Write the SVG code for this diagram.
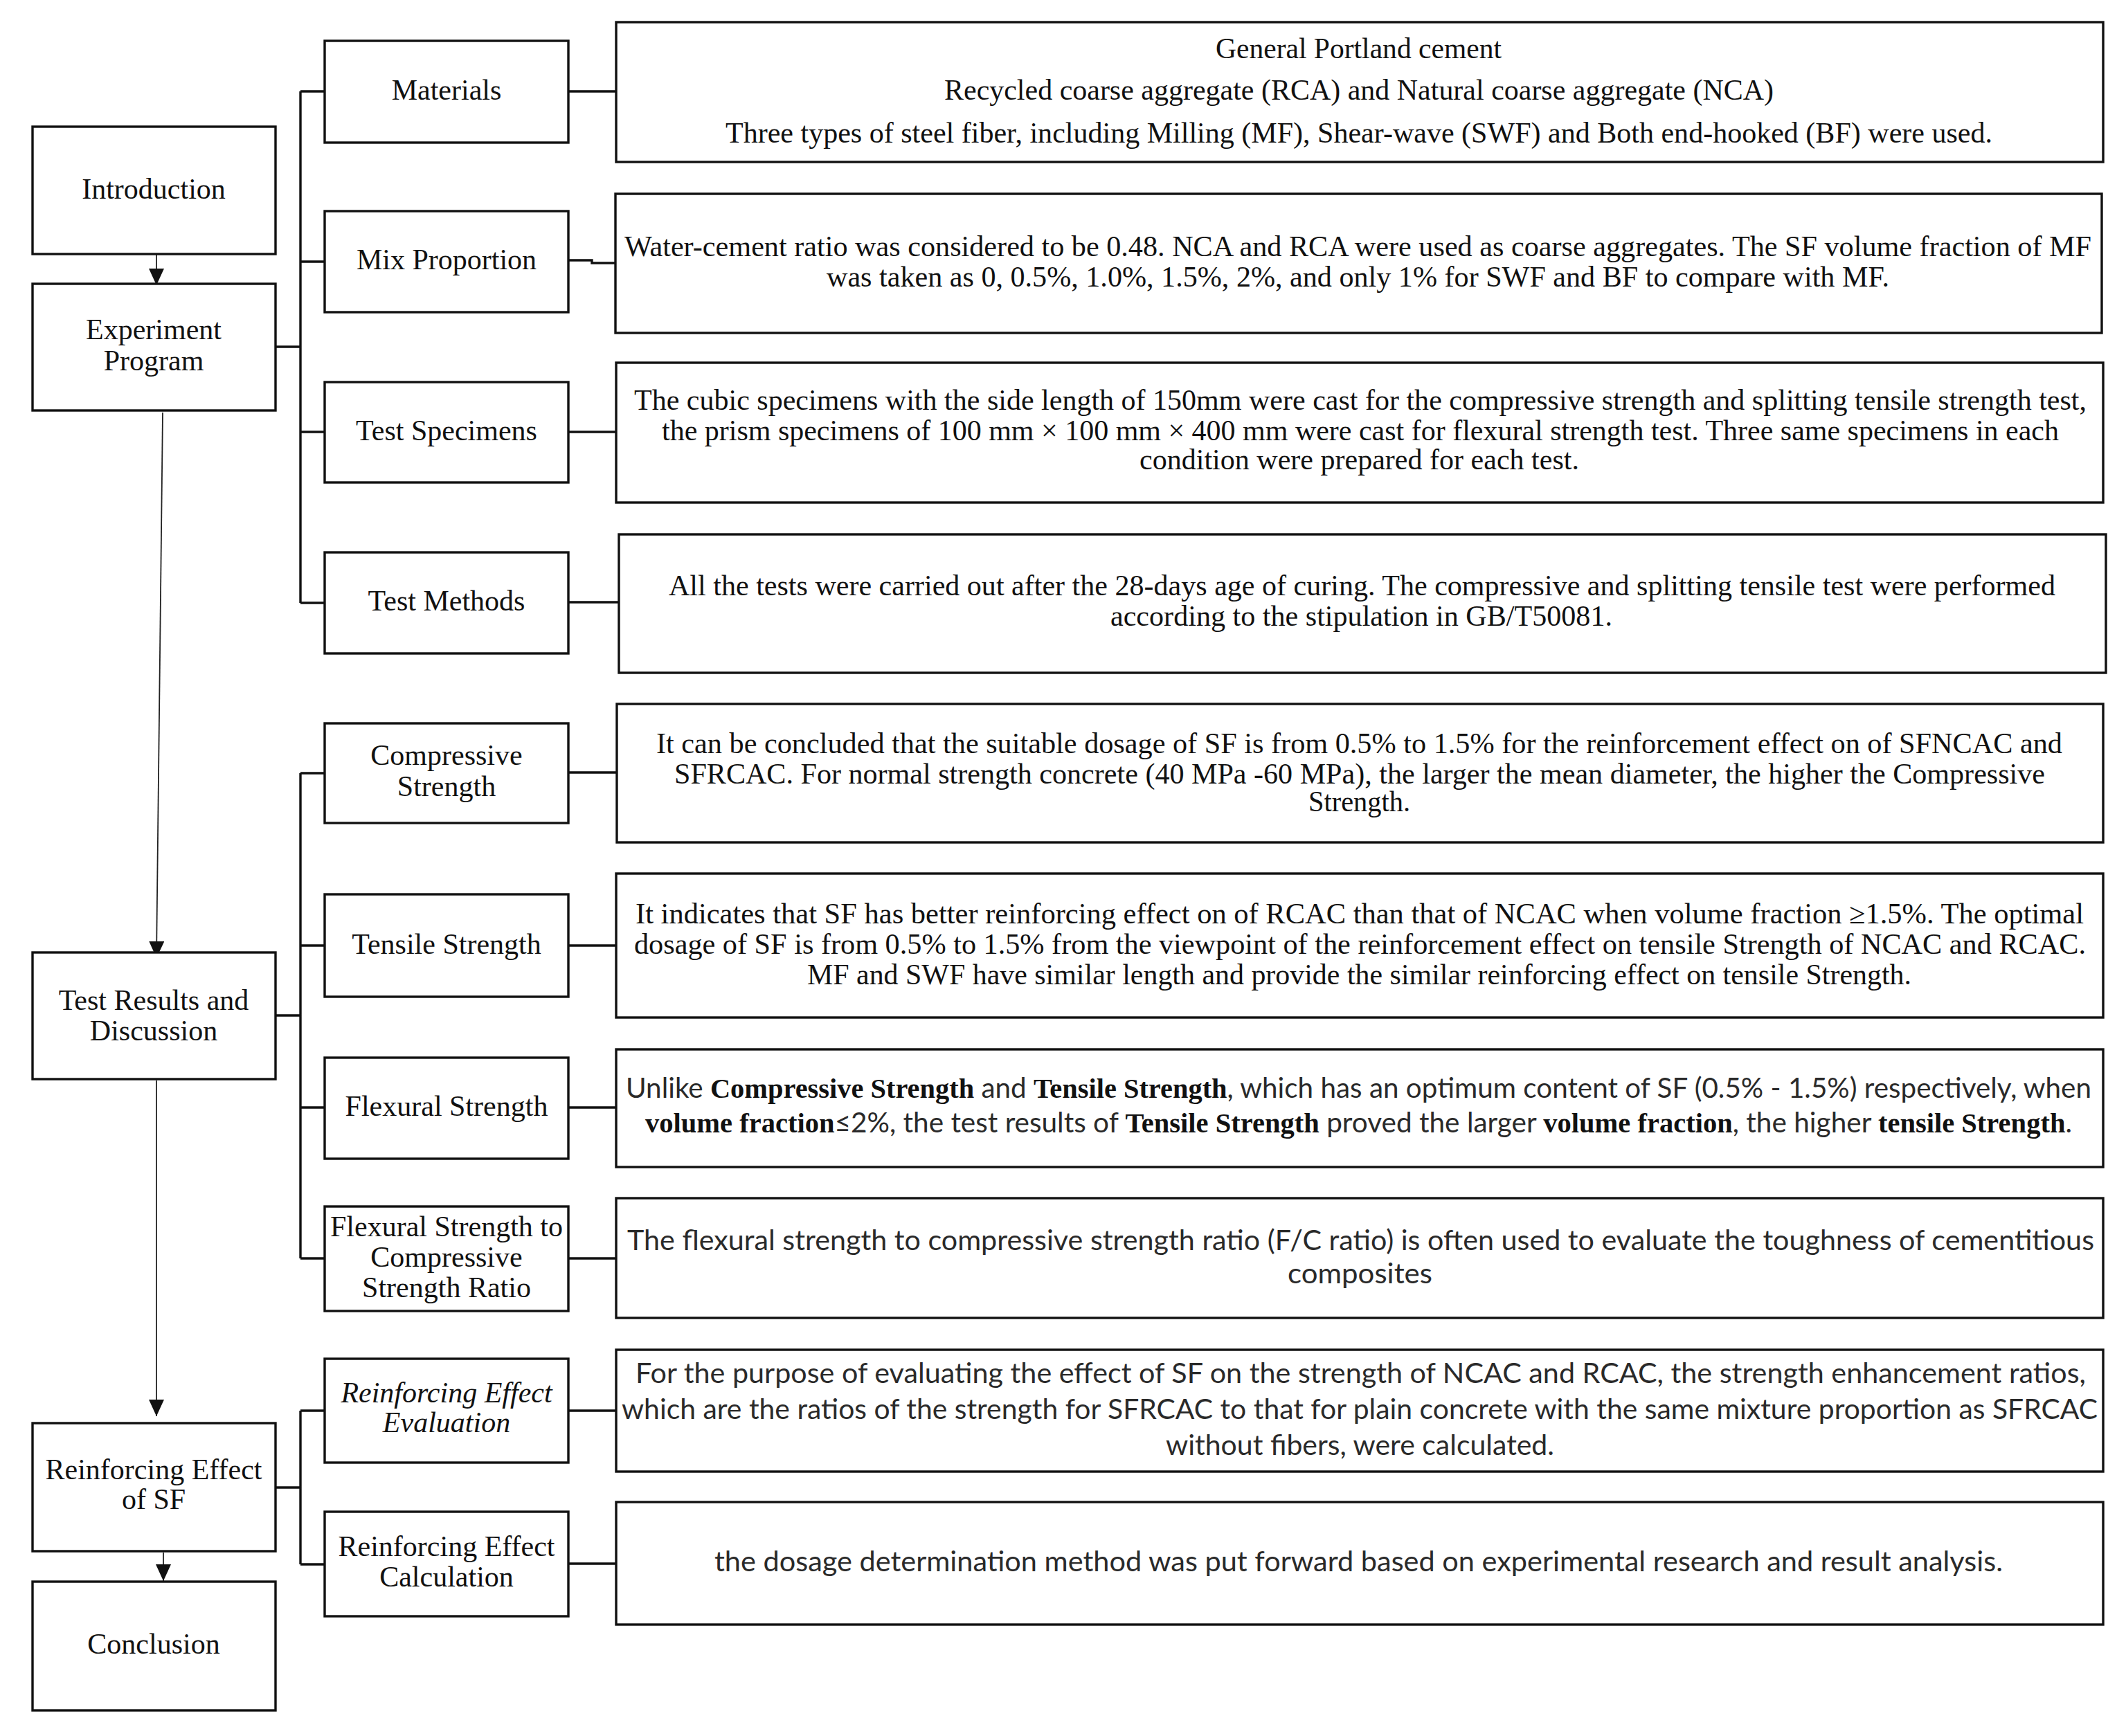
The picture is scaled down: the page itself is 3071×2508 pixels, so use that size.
<svg xmlns="http://www.w3.org/2000/svg" width="3071" height="2508" viewBox="0 0 3071 2508">
<style>
.bx{fill:#fff;stroke:#111;stroke-width:3.4}
.ln{fill:none;stroke:#111;stroke-width:3.4}
.ar{fill:none;stroke:#222;stroke-width:1.8}
.lb{font-family:"Liberation Serif","Times New Roman",serif;font-size:42px;fill:#111;text-anchor:middle}
.it{font-style:italic}
.ds{font-family:"Liberation Serif","Times New Roman",serif;font-size:42px;fill:#111}
.sn{font-family:Lato,"Liberation Sans",sans-serif;font-size:40px;fill:#2a2a2a}
.bs{font-family:"Liberation Serif","Times New Roman",serif;font-weight:bold;fill:#111}
</style>
<defs>
<marker id="ah" viewBox="0 0 24 22" refX="24" refY="11" markerWidth="24" markerHeight="22" orient="auto" markerUnits="userSpaceOnUse">
<path d="M0,0 L24,11 L0,22 z" fill="#111"/>
</marker>
</defs>
<rect width="3071" height="2508" fill="#fff"/>

<g id="connectors">
<line class="ar" x1="226" y1="367" x2="226" y2="412" marker-end="url(#ah)"/>
<line class="ar" x1="235" y1="596" x2="226" y2="1384" marker-end="url(#ah)"/>
<line class="ar" x1="226" y1="1561" x2="226" y2="2046" marker-end="url(#ah)"/>
<line class="ar" x1="236" y1="2243" x2="236" y2="2284" marker-end="url(#ah)"/>
<path class="ln" d="M398,501 H434 M434,132 V871 M434,132 H469 M434,378 H469 M434,624 H469 M434,871 H469"/>
<path class="ln" d="M398,1467 H434 M434,1117 V1818 M434,1117 H469 M434,1366 H469 M434,1600 H469 M434,1818 H469"/>
<path class="ln" d="M398,2149 H434 M434,2038 V2260 M434,2038 H469 M434,2260 H469"/>
<path class="ln" d="M821,132 H890 M821,376 H855 V380 H889 M821,624 H890 M821,870 H894 M821,1116 H891 M821,1366 H890 M821,1600 H890 M821,1818 H890 M821,2038 H890 M821,2259 H890"/>
</g>

<g id="introduction"><rect class="bx" x="47" y="183" width="351" height="184"/><text class="lb" x="222" y="287">Introduction</text></g>
<g id="experiment-program"><rect class="bx" x="47" y="410" width="351" height="183"/><text class="lb" x="222" y="490">Experiment</text><text class="lb" x="222" y="535">Program</text></g>
<g id="test-results"><rect class="bx" x="47" y="1376" width="351" height="183"/><text class="lb" x="222" y="1459">Test Results and</text><text class="lb" x="222" y="1503">Discussion</text></g>
<g id="reinforcing-effect"><rect class="bx" x="47" y="2056" width="351" height="185"/><text class="lb" x="222" y="2137">Reinforcing Effect</text><text class="lb" x="222" y="2180">of SF</text></g>
<g id="conclusion"><rect class="bx" x="47" y="2285" width="351" height="186"/><text class="lb" x="222" y="2389">Conclusion</text></g>

<g id="materials"><rect class="bx" x="469" y="59" width="352" height="147"/><text class="lb" x="645" y="144">Materials</text></g>
<g id="mix-proportion"><rect class="bx" x="469" y="305" width="352" height="146"/><text class="lb" x="645" y="389">Mix Proportion</text></g>
<g id="test-specimens"><rect class="bx" x="469" y="552" width="352" height="145"/><text class="lb" x="645" y="636">Test Specimens</text></g>
<g id="test-methods"><rect class="bx" x="469" y="798" width="352" height="146"/><text class="lb" x="645" y="882">Test Methods</text></g>
<g id="compressive-strength"><rect class="bx" x="469" y="1045" width="352" height="144"/><text class="lb" x="645" y="1105">Compressive</text><text class="lb" x="645" y="1150">Strength</text></g>
<g id="tensile-strength"><rect class="bx" x="469" y="1292" width="352" height="148"/><text class="lb" x="645" y="1378">Tensile Strength</text></g>
<g id="flexural-strength"><rect class="bx" x="469" y="1528" width="352" height="146"/><text class="lb" x="645" y="1612">Flexural Strength</text></g>
<g id="fc-ratio"><rect class="bx" x="469" y="1743" width="352" height="151"/><text class="lb" x="645" y="1786">Flexural Strength to</text><text class="lb" x="645" y="1830">Compressive</text><text class="lb" x="645" y="1874">Strength Ratio</text></g>
<g id="re-evaluation"><rect class="bx" x="469" y="1963" width="352" height="150"/><text class="lb it" x="645" y="2026">Reinforcing Effect</text><text class="lb it" x="645" y="2069">Evaluation</text></g>
<g id="re-calculation"><rect class="bx" x="469" y="2184" width="352" height="151"/><text class="lb" x="645" y="2248">Reinforcing Effect</text><text class="lb" x="645" y="2292">Calculation</text></g>

<g id="materials-desc"><rect class="bx" x="890" y="32" width="2148" height="202"/>
<text class="ds" x="1756" y="84" textLength="413" lengthAdjust="spacingAndGlyphs">General Portland cement</text>
<text class="ds" x="1364" y="144" textLength="1198" lengthAdjust="spacingAndGlyphs">Recycled coarse aggregate (RCA) and Natural coarse aggregate (NCA)</text>
<text class="ds" x="1048" y="206" textLength="1830" lengthAdjust="spacingAndGlyphs">Three types of steel fiber, including Milling (MF), Shear-wave (SWF) and Both end-hooked (BF) were used.</text>
</g>
<g id="mix-desc"><rect class="bx" x="889" y="280" width="2147" height="201"/>
<text class="ds" x="902" y="370" textLength="2119" lengthAdjust="spacingAndGlyphs">Water-cement ratio was considered to be 0.48. NCA and RCA were used as coarse aggregates. The SF volume fraction of MF</text>
<text class="ds" x="1194" y="414" textLength="1535" lengthAdjust="spacingAndGlyphs">was taken as 0, 0.5%, 1.0%, 1.5%, 2%, and only 1% for SWF and BF to compare with MF.</text>
</g>
<g id="specimens-desc"><rect class="bx" x="890" y="524" width="2148" height="202"/>
<text class="ds" x="916" y="592" textLength="2098" lengthAdjust="spacingAndGlyphs">The cubic specimens with the side length of 150mm were cast for the compressive strength and splitting tensile strength test,</text>
<text class="ds" x="956" y="636" textLength="2018" lengthAdjust="spacingAndGlyphs">the prism specimens of 100 mm × 100 mm × 400 mm were cast for flexural strength test. Three same specimens in each</text>
<text class="ds" x="1646" y="678" textLength="635" lengthAdjust="spacingAndGlyphs">condition were prepared for each test.</text>
</g>
<g id="methods-desc"><rect class="bx" x="894" y="772" width="2148" height="200"/>
<text class="ds" x="966" y="860" textLength="2003" lengthAdjust="spacingAndGlyphs">All the tests were carried out after the 28-days age of curing. The compressive and splitting tensile test were performed</text>
<text class="ds" x="1604" y="904" textLength="725" lengthAdjust="spacingAndGlyphs">according to the stipulation in GB/T50081.</text>
</g>
<g id="compressive-desc"><rect class="bx" x="891" y="1017" width="2147" height="200"/>
<text class="ds" x="948" y="1088" textLength="2031" lengthAdjust="spacingAndGlyphs">It can be concluded that the suitable dosage of SF is from 0.5% to 1.5% for the reinforcement effect on of SFNCAC and</text>
<text class="ds" x="974" y="1132" textLength="1980" lengthAdjust="spacingAndGlyphs">SFRCAC. For normal strength concrete (40 MPa -60 MPa), the larger the mean diameter, the higher the Compressive</text>
<text class="ds" x="1890" y="1172" textLength="147" lengthAdjust="spacingAndGlyphs">Strength.</text>
</g>
<g id="tensile-desc"><rect class="bx" x="890" y="1262" width="2148" height="208"/>
<text class="ds" x="918" y="1334" textLength="2092" lengthAdjust="spacingAndGlyphs">It indicates that SF has better reinforcing effect on of RCAC than that of NCAC when volume fraction ≥1.5%. The optimal</text>
<text class="ds" x="916" y="1378" textLength="2097" lengthAdjust="spacingAndGlyphs">dosage of SF is from 0.5% to 1.5% from the viewpoint of the reinforcement effect on tensile Strength of NCAC and RCAC.</text>
<text class="ds" x="1166" y="1422" textLength="1595" lengthAdjust="spacingAndGlyphs">MF and SWF have similar length and provide the similar reinforcing effect on tensile Strength.</text>
</g>
<g id="flexural-desc"><rect class="bx" x="890" y="1516" width="2148" height="170"/>
<text class="sn" x="904" y="1586" textLength="2117" lengthAdjust="spacingAndGlyphs">Unlike <tspan class="bs">Compressive Strength</tspan> and <tspan class="bs">Tensile Strength</tspan>, which has an optimum content of SF (0.5% - 1.5%) respectively, when</text>
<text class="sn" x="932" y="1636" textLength="2061" lengthAdjust="spacingAndGlyphs"><tspan class="bs">volume fraction</tspan>≤2%, the test results of <tspan class="bs">Tensile Strength</tspan> proved the larger <tspan class="bs">volume fraction</tspan>, the higher <tspan class="bs">tensile Strength</tspan>.</text>
</g>
<g id="fc-ratio-desc"><rect class="bx" x="890" y="1731" width="2148" height="173"/>
<text class="sn" x="906" y="1806" textLength="2119" lengthAdjust="spacingAndGlyphs">The flexural strength to compressive strength ratio (F/C ratio) is often used to evaluate the toughness of cementitious</text>
<text class="sn" x="1860" y="1854" textLength="209" lengthAdjust="spacingAndGlyphs">composites</text>
</g>
<g id="evaluation-desc"><rect class="bx" x="890" y="1950" width="2148" height="176"/>
<text class="sn" x="918" y="1998" textLength="2095" lengthAdjust="spacingAndGlyphs">For the purpose of evaluating the effect of SF on the strength of NCAC and RCAC, the strength enhancement ratios,</text>
<text class="sn" x="898" y="2050" textLength="2132" lengthAdjust="spacingAndGlyphs">which are the ratios of the strength for SFRCAC to that for plain concrete with the same mixture proportion as SFRCAC</text>
<text class="sn" x="1684" y="2102" textLength="561" lengthAdjust="spacingAndGlyphs">without fibers, were calculated.</text>
</g>
<g id="calculation-desc"><rect class="bx" x="890" y="2170" width="2148" height="177"/>
<text class="sn" x="1032" y="2270" textLength="1861" lengthAdjust="spacingAndGlyphs">the dosage determination method was put forward based on experimental research and result analysis.</text>
</g>
</svg>
